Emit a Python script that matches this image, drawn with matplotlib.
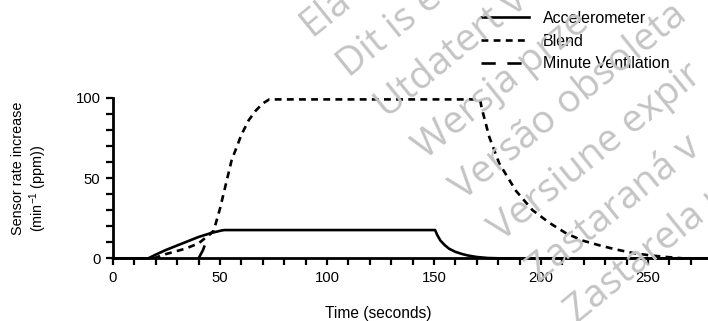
import matplotlib
matplotlib.use('Agg')
import matplotlib.pyplot as plt
from matplotlib.ticker import MultipleLocator

plt.rcParams['font.family'] = ['Liberation Sans', 'DejaVu Sans']
plt.rcParams['mathtext.fontset'] = 'custom'
plt.rcParams['mathtext.rm'] = 'Liberation Sans'
plt.rcParams['mathtext.it'] = 'Liberation Sans'

# Sensor rate increase (min^-1) over time (s)
acc_t = [0, 16.5, 20, 24.4, 30, 33.8, 40, 46, 50.6, 52, 150.5, 151.5, 153, 155, 157, 160, 163, 166, 170, 175, 180, 278]
acc_y = [0, 0, 2.3, 5, 8, 10, 13.3, 15.8, 17.3, 17.6, 17.6, 14.5, 11, 8.2, 6, 4, 2.7, 1.7, 0.8, 0.2, 0, 0]

blend_t = [19, 24.4, 33.8, 40, 44.6, 47, 50, 55.4, 60, 63.4, 66.7, 70, 73, 171.5, 172.2, 175.8, 180.5,
           188.3, 196, 204, 211.8, 219.5, 227.5, 235, 243, 251, 258.8, 266]
blend_y = [0, 2.5, 6, 9.3, 14.3, 17, 31, 61, 77, 86, 92, 96.5, 99, 99, 94, 75.6, 59,
           42, 30, 22, 15.5, 11, 8, 5.5, 3.3, 1.8, 0.8, 0]

mv_t = [40, 42, 44.6, 47]
mv_y = [0, 5, 14.3, 17]

# visible parts of the "obsolete version" watermark
watermark = ["Ela", "Dit is e", "Utdatert v", "Wersja prze",
             "Versão obsoleta", "Versiune expir", "Zastaraná v", "Zastarela r"]

W, H = 708, 321
fig = plt.figure(figsize=(W / 100, H / 100), dpi=100)
ax = fig.add_axes([113 / W, 1 - 258.3 / H, (W - 113) / W, 160.5 / H])

for i, s in enumerate(watermark):
    x0 = 311 + 38 * i
    y0 = 37 + 41 * i
    fig.text(x0 / W, 1 - y0 / H, s, rotation=39, rotation_mode='anchor',
             ha='left', va='baseline', fontsize=28, color='#c4c4c4',
             family=['Open Sans', 'DejaVu Sans'], zorder=0)

lw = 1.9
ax.plot(acc_t, acc_y, color='black', lw=lw, ls='-', label='Accelerometer', clip_on=False, zorder=5)
ax.plot(blend_t, blend_y, color='black', lw=lw, ls=(0, (2.6, 2.0)), label='Blend', clip_on=False, zorder=5)
ax.plot(mv_t, mv_y, color='black', lw=lw, ls=(0, (5.4, 4.4)), label='Minute Ventilation', clip_on=False, zorder=5)

ax.set_xlim(0, 278)
ax.set_ylim(0, 100)
ax.patch.set_alpha(0)
for side in ['top', 'right']:
    ax.spines[side].set_visible(False)
for side in ['left', 'bottom']:
    ax.spines[side].set_linewidth(2)

ax.xaxis.set_major_locator(MultipleLocator(50))
ax.xaxis.set_minor_locator(MultipleLocator(10))
ax.yaxis.set_major_locator(MultipleLocator(50))
ax.yaxis.set_minor_locator(MultipleLocator(10))
ax.tick_params(which='both', direction='out', length=5, width=1.6, labelsize=10.7)
ax.tick_params(axis='x', pad=4)
ax.tick_params(axis='y', pad=4)

ax.set_xlabel('Time (seconds)', fontsize=11.2)
ax.xaxis.set_label_coords(0.445, -0.30)

# y label: two lines, drawn separately as in the reference
fig.text(18.5 / W, 1 - 168.5 / H, 'Sensor rate increase', rotation=90,
         ha='center', va='center', fontsize=10.4)
fig.text(38.5 / W, 1 - 188.5 / H, '(min$^{-1}$ (ppm))', rotation=90,
         ha='center', va='center', fontsize=10.4)

ax.legend(loc='upper left', bbox_to_anchor=(481 / W, 1 - 11 / H), bbox_transform=fig.transFigure,
          frameon=False, fontsize=11.5, handlelength=3.0, handletextpad=0.88,
          labelspacing=0.48, borderpad=0, borderaxespad=0)

fig.savefig('out.png', dpi=100)
